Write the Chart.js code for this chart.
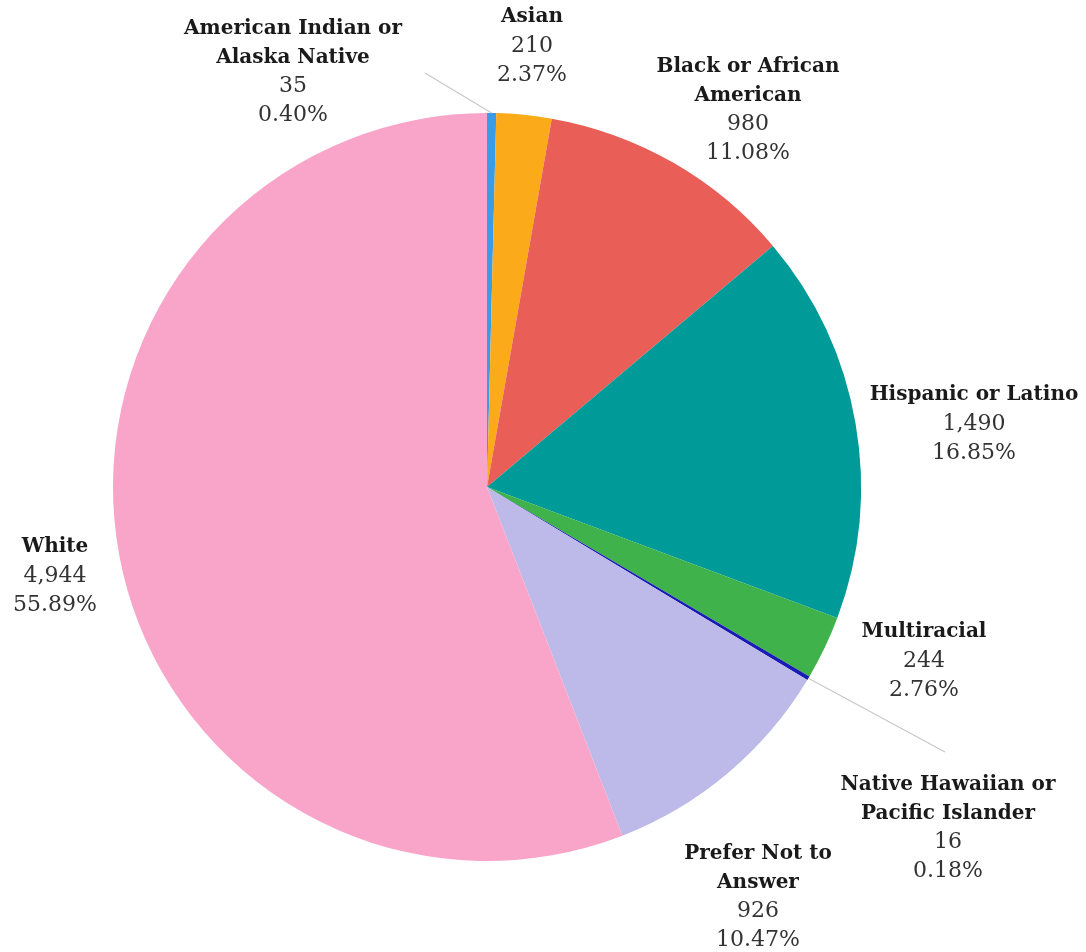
<!DOCTYPE html>
<html>
<head>
<meta charset="utf-8">
<script src="https://cdn.jsdelivr.net/npm/chart.js@4"></script>
<style>
  html, body { margin: 0; padding: 0; background: #fff; }
  #wrap { width: 1086px; height: 952px; position: relative; }
</style>
</head>
<body>
<div id="wrap"><canvas id="race_pie"></canvas></div>
<script>
"use strict";

const categories = [
	["American Indian or", "Alaska Native"],
	["Asian"],
	["Black or African", "American"],
	["Hispanic or Latino"],
	["Multiracial"],
	["Native Hawaiian or", "Pacific Islander"],
	["Prefer Not to", "Answer"],
	["White"],
];
const counts = [35, 210, 980, 1490, 244, 16, 926, 4944];
const percentLabels = ["0.40%", "2.37%", "11.08%", "16.85%", "2.76%", "0.18%", "10.47%", "55.89%"];

const sliceColors = [
	"#3a9be6",
	"#fbaa1a",
	"#e95f57",
	"#009a98",
	"#3fb24b",
	"#1a1ab4",
	"#bdb9e9",
	"#f9a5c9",
];

// label block centre, relative to pie centre; lead = leader line end point
const labelSpots = [
	{ dx: -194, dy: -415, lead: [-62, -414] },
	{ dx: 45, dy: -441 },
	{ dx: 261, dy: -377 },
	{ dx: 487, dy: -63 },
	{ dx: 437, dy: 174 },
	{ dx: 461, dy: 341, lead: [458, 265] },
	{ dx: 271, dy: 410 },
	{ dx: -432, dy: 89 },
];

const fontFace = "'DejaVu Serif', serif";
const lineGap = 29;

const pieLabels = {
	id: "pieLabels",
	afterDatasetsDraw(chart) {
		const c = chart.ctx;
		const arcs = chart.getDatasetMeta(0).data;
		c.save();
		c.textAlign = "center";
		c.textBaseline = "middle";
		arcs.forEach((arc, i) => {
			const cx = arc.x;
			const cy = arc.y;
			const spot = labelSpots[i];

			if (spot.lead) {
				const mid = (arc.startAngle + arc.endAngle) / 2;
				c.strokeStyle = "#c8c8c8";
				c.lineWidth = 1.2;
				c.beginPath();
				c.moveTo(cx + Math.cos(mid) * arc.outerRadius, cy + Math.sin(mid) * arc.outerRadius);
				c.lineTo(cx + spot.lead[0], cy + spot.lead[1]);
				c.stroke();
			}

			const lines = categories[i].map((t) => ({ t, bold: true }));
			lines.push({ t: counts[i].toLocaleString("en-US"), bold: false });
			lines.push({ t: percentLabels[i], bold: false });

			const top = cy + spot.dy - ((lines.length - 1) * lineGap) / 2;
			lines.forEach((ln, k) => {
				c.font = ln.bold ? "bold 20px " + fontFace : "22px " + fontFace;
				c.fillStyle = ln.bold ? "#1a1a1a" : "#333333";
				c.fillText(ln.t, cx + spot.dx, top + k * lineGap);
			});
		});
		c.restore();
	},
};

new Chart(document.getElementById("race_pie"), {
	type: "pie",
	data: {
		labels: categories.map((c) => c.join(" ")),
		datasets: [
			{
				data: counts,
				backgroundColor: sliceColors,
				borderWidth: 0,
			},
		],
	},
	options: {
		responsive: true,
		maintainAspectRatio: false,
		animation: false,
		layout: { padding: { left: 113, right: 225, top: 113, bottom: 91 } },
		plugins: {
			legend: { display: false },
			tooltip: { enabled: false },
		},
	},
	plugins: [pieLabels],
});
</script>
</body>
</html>
